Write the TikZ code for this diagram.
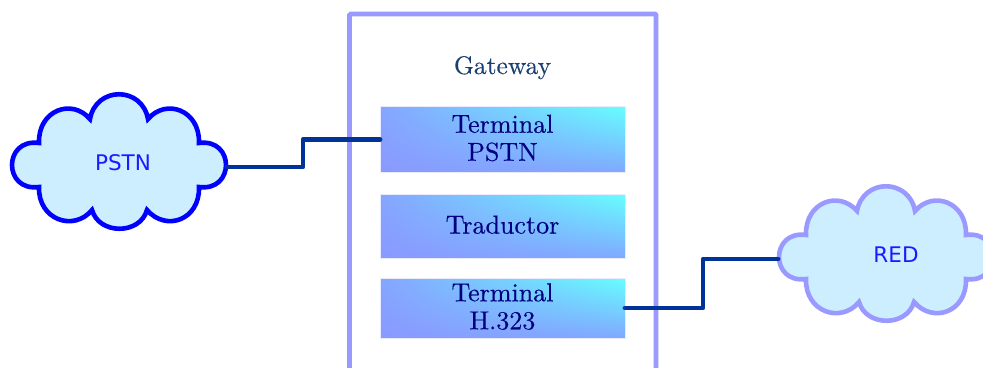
\documentclass[tikz,border=0pt]{standalone}
\usepackage{fontspec}
\usetikzlibrary{shadings}
\setsansfont{DejaVu Sans}
\newfontfamily\serfam[Extension=.otf,FakeBold=0.25]{lmroman10-regular}
\newcommand{\serfont}{\serfam\fontsize{26}{26}\selectfont}
\newcommand{\gwfont}{\serfam\fontsize{25.5}{26}\selectfont}
\definecolor{gwline}{HTML}{9999FF}
\definecolor{cloudfill}{HTML}{CCEEFF}
\definecolor{wirec}{HTML}{003399}
\definecolor{navytext}{HTML}{000080}
\definecolor{gwtext}{HTML}{1A3F70}
\definecolor{sanstext}{HTML}{1A1AFF}
\definecolor{periwinkle}{HTML}{8A99FF}
\definecolor{cyanend}{HTML}{66FFFF}
\definecolor{midul}{HTML}{85A5FF}
\definecolor{midlr}{HTML}{80A8FF}
\newcommand{\cloudshape}{
  (39,143) .. controls (38,110) and (72,98) .. (90,119)
  .. controls (96,86) and (142,86) .. (148,119)
  .. controls (166,98) and (200,110) .. (199,143)
  .. controls (235,138) and (235,192) .. (199,187)
  .. controls (200,220) and (166,232) .. (147,210)
  .. controls (140,235) and (99,235) .. (92,210)
  .. controls (74,232) and (38,220) .. (39,187)
  .. controls (3,192) and (3,138) .. (39,143) -- cycle}
\tikzset{
  x=1pt,y=-1pt,
  gatewaybox/.style={draw=gwline,line width=4.6pt,outer sep=0pt,rounded corners=1pt,minimum width=306.5pt,minimum height=370pt,inner sep=0pt},
  termbox/.style={draw=white!80!gwline,line width=.8pt,outer sep=0pt,minimum width=245pt,inner sep=0pt,
    lower left=periwinkle,upper right=cyanend,upper left=midul,lower right=midlr,
    text=navytext,font=\serfont,align=center,text depth=3.5pt},
  cloudpstn/.style={draw=blue,line width=4.6pt,fill=cloudfill},
  cloudred/.style={draw=gwline,line width=4.6pt,fill=cloudfill},
  cloudlabel/.style={text=sanstext,font=\sffamily\fontsize{21.5}{24}\selectfont,inner sep=0pt},
  wire/.style={draw=wirec,line width=4.8pt,line join=round,line cap=round},
}
\begin{document}
\begin{tikzpicture}
\clip (0,0) rectangle (983,367);
\node[gatewaybox,anchor=north west] (gw) at (349.5,14) {};
\node[anchor=base,text=gwtext,font=\gwfont,inner sep=0pt] (gwlabel) at (502.5,74) {Gateway};
\node[termbox,minimum height=66pt] (tpstn) at (502.5,139.5) {Terminal\\[2pt]PSTN};
\node[termbox,minimum height=64.5pt] (trad) at (502.5,226.3) {Traductor};
\node[termbox,minimum height=60pt] (th) at (502.5,308) {Terminal\\[2pt]H.323};
\path[cloudpstn] \cloudshape;
\begin{scope}[xshift=767pt,yshift=-92pt]
\path[cloudred] \cloudshape;
\end{scope}
\node[cloudlabel] (pstn) at (123,163) {PSTN};
\node[cloudlabel] (red) at (896,255) {RED};
\coordinate (pstnport) at (227,167);
\coordinate (redport) at (778,259);
\draw[wire] (pstnport) -- ++(76,0) |- (tpstn.west);
\draw[wire] (th.east) -- ++(78,0) |- (redport);
\end{tikzpicture}
\end{document}
